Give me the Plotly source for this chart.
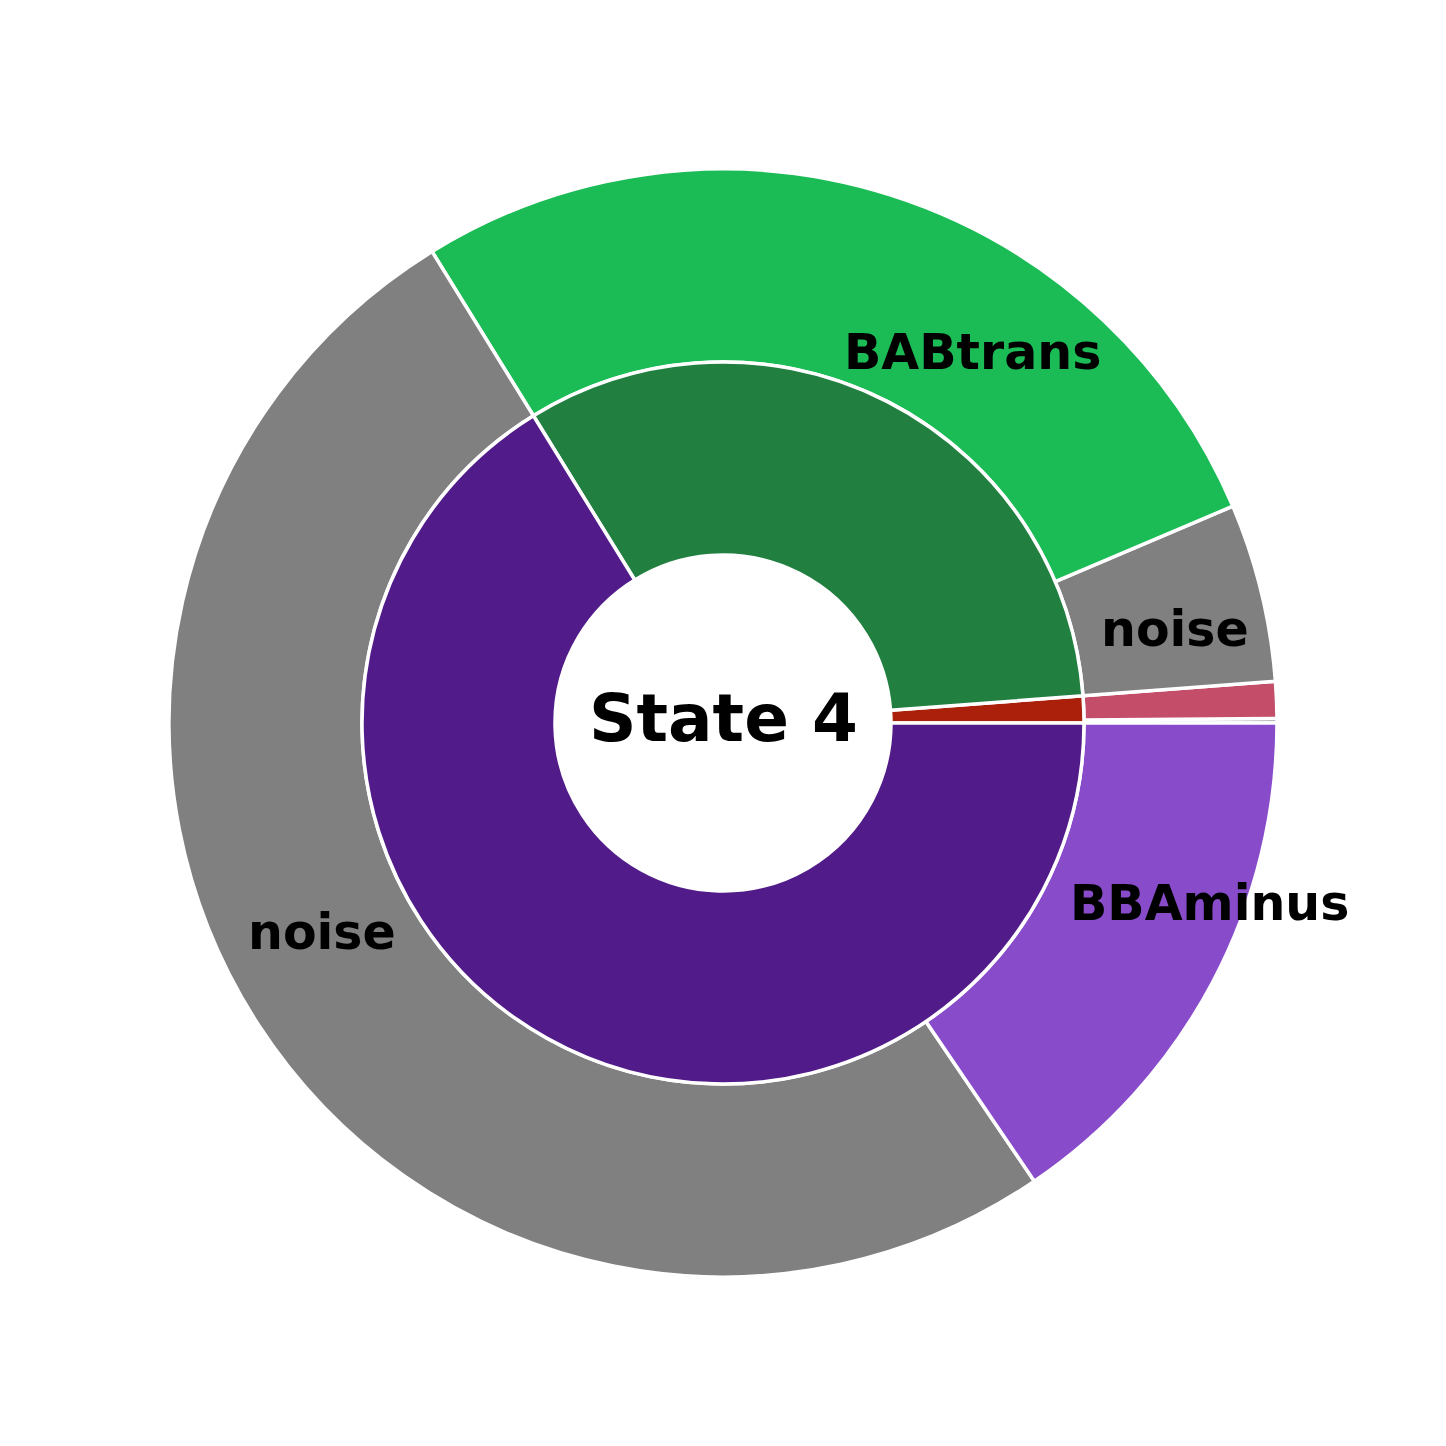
import plotly.graph_objects as go

# Inner ring (categories)
inner_labels = ["BBAplus", "BABtrans", "BBAminus"]
inner_values = [1.2, 32.6, 66.2]
inner_colors = ["#AA200B", "#217F40", "#511C89"]

# Outer ring (sub-categories); labels must be unique for plotly, text shown via annotations
outer_labels = ["BBAplus noise", "BBAplus", "BABtrans noise", "BABtrans", "BBAminus noise", "BBAminus"]
outer_values = [0.13, 1.07, 5.2, 27.4, 50.7, 15.5]
outer_colors = ["#808080", "#C44E6A", "#808080", "#1BBC55", "#808080", "#884CCB"]

center_title = "State 4"

W = 1446
OFF = 8  # default body margin of the html page
cx = 723 - OFF
R_out, R_mid, R_in = 554, 361, 168


def start_rotation(values):
    # plotly counterclockwise pies put the first slice clockwise of `rotation`;
    # shift so that the first slice starts at 3 o'clock and runs counterclockwise
    return 90 - 360.0 * values[0] / sum(values)


def dom(r):
    return [(cx - r) / W, (cx + r) / W]


def ydom(r):
    cy = W - cx
    return [(cy - r) / W, (cy + r) / W]


fig = go.Figure()
fig.add_trace(go.Pie(
    values=outer_values, labels=outer_labels, sort=False,
    direction="counterclockwise", rotation=start_rotation(outer_values),
    hole=R_mid / R_out,
    marker=dict(colors=outer_colors, line=dict(color="white", width=3.5)),
    textinfo="none", showlegend=False,
    domain=dict(x=dom(R_out), y=ydom(R_out)),
))
fig.add_trace(go.Pie(
    values=inner_values, labels=inner_labels, sort=False,
    direction="counterclockwise", rotation=start_rotation(inner_values),
    hole=R_in / R_mid,
    marker=dict(colors=inner_colors, line=dict(color="white", width=3.5)),
    textinfo="none", showlegend=False,
    domain=dict(x=dom(R_mid), y=ydom(R_mid)),
))

lab_font = dict(family="DejaVu Sans", size=49, color="black")
labels_pos = [
    ("<b>BABtrans</b>", 972, 352),
    ("<b>noise</b>", 1175, 629),
    ("<b>BBAminus</b>", 1209, 903),
    ("<b>noise</b>", 322, 933),
]
for txt, px, py in labels_pos:
    fig.add_annotation(text=txt, x=(px - OFF) / W, y=1 - (py - OFF) / W, xref="paper", yref="paper",
                       showarrow=False, font=lab_font, xanchor="center", yanchor="middle")

fig.add_annotation(text="<b>" + center_title + "</b>", x=(723 - OFF) / W, y=1 - (718 - OFF) / W,
                   xref="paper", yref="paper", showarrow=False,
                   font=dict(family="DejaVu Sans", size=66, color="black"),
                   xanchor="center", yanchor="middle")

fig.update_layout(width=W, height=W, margin=dict(l=0, r=0, t=0, b=0),
                  paper_bgcolor="white", plot_bgcolor="white")
fig.write_html("out.html")
